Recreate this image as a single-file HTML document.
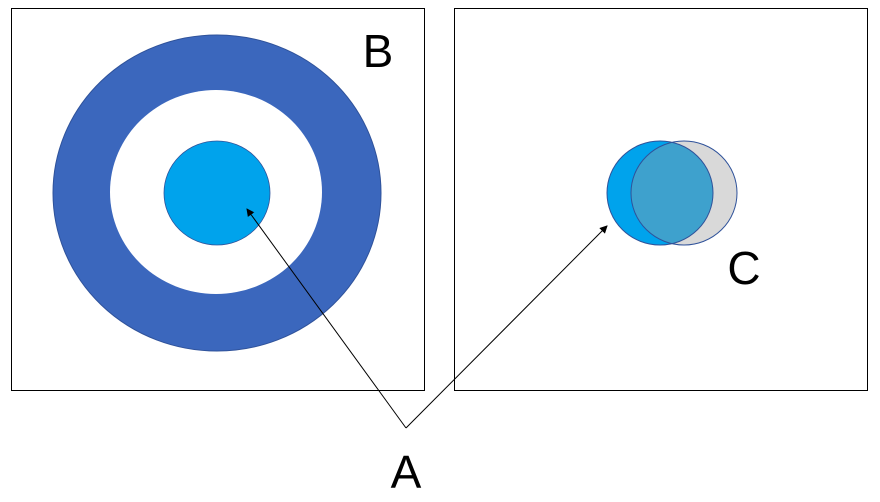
<!DOCTYPE html>
<html><head><style>html,body{margin:0;padding:0;background:#fff}</style></head>
<body>
<svg width="880" height="502" xmlns="http://www.w3.org/2000/svg" style="display:block">
<defs>
<clipPath id="cb"><ellipse cx="660" cy="193" rx="53" ry="52"/></clipPath>
<marker id="ar" markerWidth="8" markerHeight="8" refX="7" refY="4" orient="auto" markerUnits="userSpaceOnUse"><path d="M0,0 L8,4 L0,8 z" fill="#000"/></marker>
</defs>
<rect x="11.5" y="8.5" width="413" height="382" fill="#fff" stroke="#000" stroke-width="1"/>
<rect x="454.5" y="8.5" width="413" height="382" fill="#fff" stroke="#000" stroke-width="1"/>
<ellipse cx="217" cy="193" rx="164" ry="158" fill="#3b67bd" stroke="#2f529a" stroke-width="1"/>
<ellipse cx="216" cy="192" rx="106" ry="102" fill="#fff"/>
<ellipse cx="217" cy="193" rx="53" ry="52" fill="#00a3ec" stroke="#2f529a" stroke-width="0.8"/>
<ellipse cx="660" cy="193" rx="53" ry="52" fill="#00a3ec"/>
<ellipse cx="684" cy="193" rx="53" ry="52" fill="#d9d9d9"/>
<ellipse cx="684" cy="193" rx="53" ry="52" fill="#3ea1cd" clip-path="url(#cb)"/>
<ellipse cx="660" cy="193" rx="53" ry="52" fill="none" stroke="#2f529a" stroke-width="1"/>
<ellipse cx="684" cy="193" rx="53" ry="52" fill="none" stroke="#2f529a" stroke-width="1"/>
<line x1="406" y1="428" x2="247" y2="209" stroke="#000" stroke-width="1" marker-end="url(#ar)"/>
<line x1="406" y1="428" x2="607" y2="226" stroke="#000" stroke-width="1" marker-end="url(#ar)"/>
<g font-family="Liberation Sans, sans-serif" font-size="46" fill="#000" text-anchor="middle">
<text x="378" y="67">B</text>
<text x="744" y="284">C</text>
<text x="406" y="488">A</text>
</g>
</svg>
</body></html>
